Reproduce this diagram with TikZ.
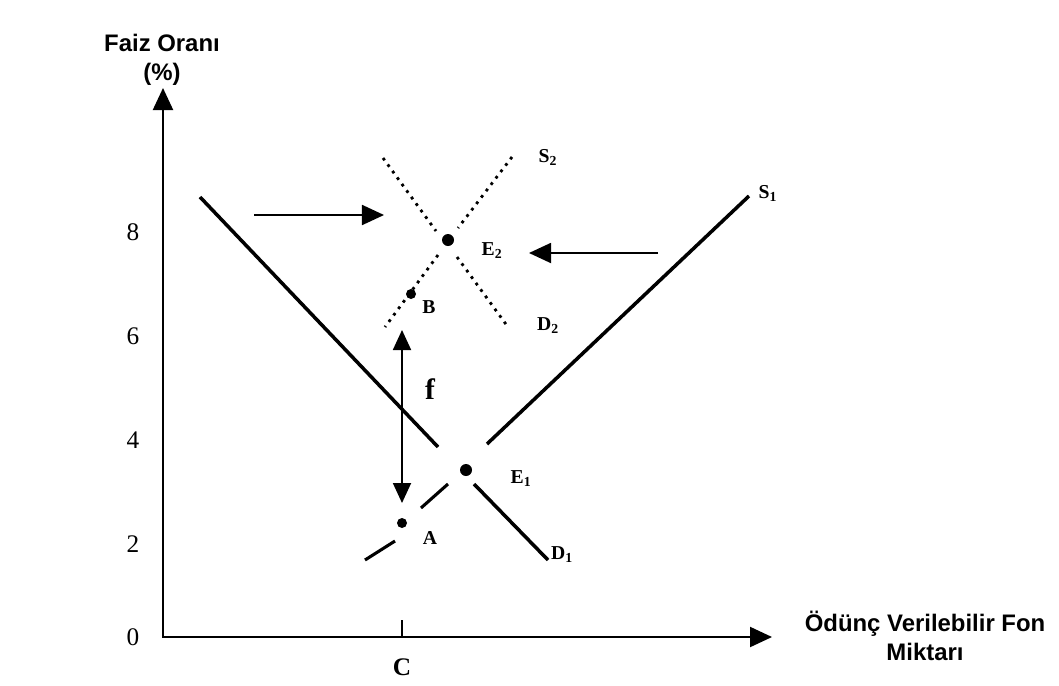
\documentclass[tikz,border=0pt]{standalone}
\usepackage{fontspec}
\setmainfont{Liberation Serif}
\setsansfont{Liberation Sans}
\usetikzlibrary{arrows.meta}

\tikzset{
  axisline/.style={line width=1.5pt,{Triangle[length=0.55cm,width=0.5cm]}-{Triangle[length=0.55cm,width=0.5cm]}},
  curve/.style={line width=2.5pt},
  dotcurve/.style={line width=2pt,dash pattern=on 2pt off 3.7pt},
  shiftarrow/.style={line width=1.3pt,-{Triangle[length=0.55cm,width=0.5cm]}},
  gaparrow/.style={line width=1.3pt,{Triangle[length=0.5cm,width=0.45cm]}-{Triangle[length=0.5cm,width=0.45cm]}},
  eqdot/.style={circle,fill,inner sep=0pt,minimum size=#1},
  lbl/.style={font=\fontsize{14}{16}\selectfont\bfseries},
  ticklbl/.style={font=\fontsize{18}{20}\selectfont},
  axislbl/.style={font=\fontsize{17}{21}\selectfont\sffamily\bfseries,align=center},
}

\begin{document}
\begin{tikzpicture}[x=0.025cm,y=-0.025cm]
  \useasboundingbox (0,0) rectangle (1059,685);

  % axes
  \coordinate (ytop) at (163,88);
  \coordinate (O) at (163,637);
  \coordinate (xend) at (772,637);
  \draw[axisline] (ytop) -- (O) -- (xend);
  \node[axislbl] (ylab) at (162,60) {Faiz Oranı\\(\%)};
  \node[axislbl] (xlab) at (925,636) {Ödünç Verilebilir Fon\\Miktarı};
  \foreach \v/\py in {0/637,2/544,4/440,6/336,8/232}
    \node[ticklbl] (t\v) at (133,\py) {\v};
  \coordinate (ctick) at (402,620);
  \coordinate (cfoot) at (402,637);
  \draw[line width=1.2pt] (ctick) -- (cfoot);
  \node[ticklbl,font=\fontsize{18}{20}\selectfont\bfseries] (C) at (402,667) {C};

  % first equilibrium
  \node[eqdot=0.3cm] (E1) at (466,470) {};
  \node[eqdot=0.25cm] (A) at (402,523) {};
  \coordinate (d1a) at (200,197);
  \coordinate (d1b) at (438,447);
  \coordinate (d1c) at (474,484);
  \coordinate (d1d) at (548,560);
  \draw[curve] (d1a) -- (d1b);
  \draw[curve] (d1c) -- (d1d);
  \coordinate (s1a) at (749,196);
  \coordinate (s1b) at (487,444);
  \coordinate (s1c) at (448,484);
  \coordinate (s1d) at (421,508);
  \coordinate (s1e) at (395,541);
  \coordinate (s1f) at (365,560);
  \draw[curve] (s1a) -- (s1b);
  \draw[line width=2.2pt] (s1c) -- (s1d);
  \draw[line width=2.2pt] (s1e) -- (s1f);
  \node[lbl] (E1lab) at (521,479) {E\textsubscript{1}};
  \node[lbl] (Alab) at (430,538) {A};
  \node[lbl] (D1lab) at (562,555) {D\textsubscript{1}};
  \node[lbl] (S1lab) at (768,193) {S\textsubscript{1}};

  % second equilibrium
  \node[eqdot=0.3cm] (E2) at (448,240) {};
  \node[eqdot=0.25cm] (B) at (411,294) {};
  \coordinate (s2a) at (512,157);
  \coordinate (s2b) at (458,228);
  \coordinate (s2c) at (438,255);
  \coordinate (s2d) at (385,327);
  \draw[dotcurve] (s2a) -- (s2b);
  \draw[dotcurve] (s2c) -- (s2d);
  \coordinate (d2a) at (383,158);
  \coordinate (d2b) at (436,231);
  \coordinate (d2c) at (457,257);
  \coordinate (d2d) at (508,327);
  \draw[dotcurve] (d2a) -- (d2b);
  \draw[dotcurve] (d2c) -- (d2d);
  \node[lbl] (E2lab) at (492,251) {E\textsubscript{2}};
  \node[lbl] (Blab) at (429,307) {B};
  \node[lbl] (S2lab) at (548,157) {S\textsubscript{2}};
  \node[lbl] (D2lab) at (548,326) {D\textsubscript{2}};

  % shifts and gap
  \coordinate (ra) at (254,215);
  \coordinate (rb) at (384,215);
  \draw[shiftarrow] (ra) -- (rb);
  \coordinate (la) at (658,253);
  \coordinate (lb) at (529,253);
  \draw[shiftarrow] (la) -- (lb);
  \coordinate (ftop) at (402,330);
  \coordinate (fbot) at (402,503);
  \draw[gaparrow] (ftop) -- (fbot);
  \node[font=\fontsize{21}{24}\selectfont\bfseries] (flab) at (430,389) {f};
\end{tikzpicture}
\end{document}
